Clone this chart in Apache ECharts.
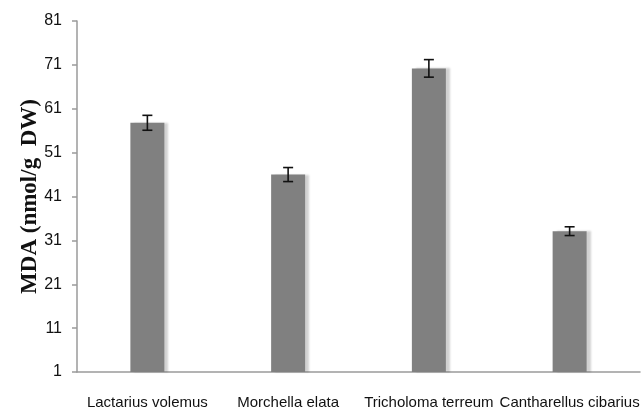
<!DOCTYPE html>
<html>
<head>
<meta charset="utf-8">
<script src="https://cdn.jsdelivr.net/npm/echarts@6/dist/echarts.min.js"></script>
<style>
  html, body { margin: 0; padding: 0; background: #fff; }
  #chart { width: 644px; height: 408px; }
</style>
</head>
<body>
<div id="chart"></div>
<script>
// Mushroom species and their MDA content (nmol/g DW) with standard errors
const species = ['Lactarius volemus', 'Morchella elata', 'Tricholoma terreum', 'Cantharellus cibarius'];
const mdaValues = [57.8, 46.0, 70.2, 33.1];
const mdaErrors = [1.7, 1.6, 2.0, 1.0];
const yTicks = { min: 1, max: 81, step: 10 };

const labelFont = '"Liberation Sans", Arial, sans-serif';

const chart = echarts.init(document.getElementById('chart'));

const errorData = species.map((s, i) => [i, mdaValues[i] - mdaErrors[i], mdaValues[i] + mdaErrors[i]]);

chart.setOption({
  animation: false,
  grid: { left: 77, right: 4, top: 21, bottom: 36, outerBoundsMode: 'none', containLabel: false },
  xAxis: {
    type: 'category',
    data: species,
    axisLine: { lineStyle: { color: '#9a9a9a', width: 1.5 } },
    axisTick: { show: false },
    axisLabel: { color: '#111', fontSize: 15, fontFamily: labelFont, margin: 23, interval: 0, hideOverlap: false }
  },
  yAxis: {
    type: 'value',
    min: yTicks.min,
    max: yTicks.max,
    interval: yTicks.step,
    name: 'MDA (nmol/g  DW)',
    nameLocation: 'middle',
    nameGap: 35,
    nameMoveOverlap: false,
    nameTextStyle: { fontFamily: '"Liberation Serif", "Times New Roman", serif', fontWeight: 'bold', fontSize: 23, color: '#111' },
    axisLine: { show: true, lineStyle: { color: '#9a9a9a', width: 1.5 } },
    axisTick: { show: true, length: 5, lineStyle: { color: '#9a9a9a', width: 1.5 } },
    splitLine: { show: false },
    axisLabel: { color: '#111', fontSize: 16, fontFamily: labelFont, margin: 15 }
  },
  series: [
    {
      type: 'bar',
      data: mdaValues,
      barWidth: 34,
      itemStyle: {
        color: '#808080',
        shadowColor: 'rgba(0,0,0,0.18)',
        shadowBlur: 2,
        shadowOffsetX: 4,
        shadowOffsetY: 0
      }
    },
    {
      type: 'custom',
      data: errorData,
      z: 10,
      renderItem: function (params, api) {
        const x = api.value(0);
        const lo = api.coord([x, api.value(1)]);
        const hi = api.coord([x, api.value(2)]);
        const cap = 5;
        const style = { stroke: '#111', lineWidth: 1.6 };
        return {
          type: 'group',
          children: [
            { type: 'line', shape: { x1: lo[0], y1: lo[1], x2: hi[0], y2: hi[1] }, style: style },
            { type: 'line', shape: { x1: lo[0] - cap, y1: lo[1], x2: lo[0] + cap, y2: lo[1] }, style: style },
            { type: 'line', shape: { x1: hi[0] - cap, y1: hi[1], x2: hi[0] + cap, y2: hi[1] }, style: style }
          ]
        };
      }
    }
  ]
});
</script>
</body>
</html>
